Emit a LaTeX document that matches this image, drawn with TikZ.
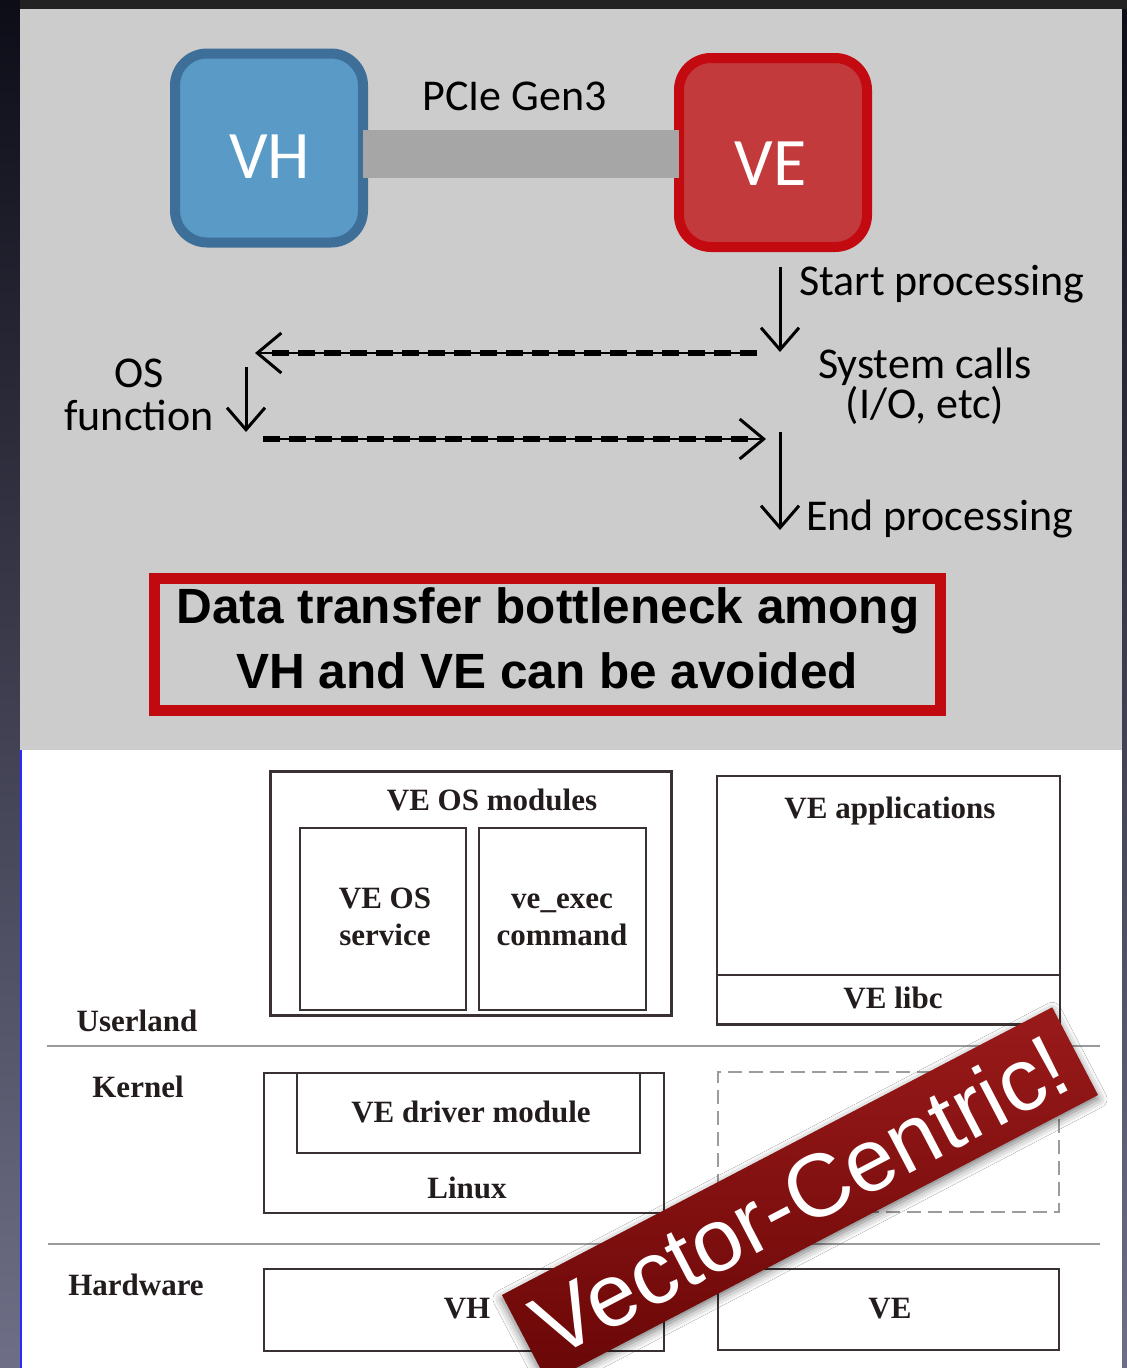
\documentclass[tikz,border=0pt]{standalone}
\usepackage{fontspec}
\setmainfont{Liberation Serif}
\newfontfamily\flowfont{Carlito}
\newfontfamily\plainsans{Liberation Sans}
\usetikzlibrary{arrows.meta,shadows.blur}

\definecolor{frametop}{HTML}{0D0D18}
\definecolor{framebot}{HTML}{6E6E86}
\definecolor{topstrip}{HTML}{222222}
\definecolor{panelgray}{HTML}{CCCCCC}
\definecolor{edgeblue}{HTML}{2A2AFF}
\definecolor{vhfill}{HTML}{5A9AC6}
\definecolor{vhline}{HTML}{3E6F98}
\definecolor{vefill}{HTML}{C33A3C}
\definecolor{veline}{HTML}{C20A10}
\definecolor{pciegray}{HTML}{A6A6A6}
\definecolor{notered}{HTML}{C00A10}
\definecolor{boxline}{HTML}{3A3232}
\definecolor{laytext}{HTML}{231C1C}
\definecolor{sepgray}{HTML}{9A9A9A}
\definecolor{dashgray}{HTML}{9C9C9C}
\definecolor{bannerhi}{HTML}{9A1A1A}
\definecolor{bannerlo}{HTML}{6A0707}

\begin{document}
\begin{tikzpicture}[x=1pt,y=-1pt,
  chip/.style={rounded corners=32pt, line width=10pt, minimum width=188pt,
    minimum height=189pt, inner sep=0pt, outer sep=0pt},
  chiplabel/.style={anchor=base, inner sep=0pt, text=white,
    font=\flowfont\fontsize{68}{68}\selectfont},
  flowtext/.style={inner sep=0pt, text=black,
    font=\flowfont\fontsize{44}{44}\selectfont},
  flowarrow/.style={line width=3pt,
    -{Straight Barb[length=22pt,width=38pt,line width=3pt]}},
  callbase/.style={line width=1.5pt,
    -{Straight Barb[length=24pt,width=40pt,line width=3pt]}},
  calldash/.style={line width=5.5pt, dash pattern=on 17pt off 9pt},
  notebox/.style={draw=notered, line width=11pt, minimum width=786pt,
    minimum height=132pt, inner sep=0pt},
  notetext/.style={anchor=base, inner sep=0pt, text=black,
    font=\plainsans\bfseries\fontsize{49.5}{49.5}\selectfont},
  layerbox/.style={draw=boxline, line width=2.5pt, inner sep=0pt, outer sep=0pt},
  spare/.style={draw=dashgray, line width=2pt, dash pattern=on 14pt off 7pt,
    inner sep=0pt},
  laytext/.style={anchor=base, inner sep=0pt, text=laytext,
    font=\bfseries\fontsize{31}{31}\selectfont},
  separator/.style={draw=sepgray, line width=1.8pt},
  banner/.style={rotate=27.6, minimum width=621pt, minimum height=99pt,
    inner sep=0pt, top color=bannerhi, bottom color=bannerlo, text=white,
    font=\plainsans\fontsize{89}{89}\selectfont,
    blur shadow={shadow xshift=0pt, shadow yshift=-4pt,
      shadow blur radius=9pt, shadow opacity=55}}
]
\useasboundingbox (0,0) rectangle (1127,1368);

% frame and the two panels
\fill[top color=frametop, bottom color=framebot] (0,0) rectangle (1127,1368);
\fill[topstrip] (20,0) rectangle (1127,9);
\fill[panelgray] (20,9) rectangle (1122,750);
\fill[white] (20,750) rectangle (1122,1368);
\draw[edgeblue, line width=2pt] (21,750) -- (21,1368);

% host and engine linked by PCIe
\node[chip, fill=vhfill, draw=vhline] (vh) at (269,148) {};
\node[chip, fill=vefill, draw=veline] (ve) at (773,152.5) {};
\draw[pciegray, line width=48pt] ([yshift=-6pt]vh.east) -- ([yshift=-1.5pt]ve.west);
\node[chiplabel] (vhtxt) at (269.5,178) {VH};
\node[chiplabel] (vetxt) at (770.5,185) {VE};
\node[flowtext, anchor=base] (pcie) at (514.5,110) {PCIe Gen3};

% processing flow on the engine
\coordinate (runA) at (780,267);
\coordinate (runB) at (780,352);
\coordinate (callFrom) at (757,353);
\coordinate (osIn) at (255,353);
\coordinate (osA) at (246,367);
\coordinate (osB) at (246,432);
\coordinate (retFrom) at (263,439);
\coordinate (retTo) at (766,439);
\coordinate (endA) at (780,432);
\coordinate (endB) at (780,530);

\draw[flowarrow] (runA) -- (runB);
\draw[callbase] (callFrom) -- (osIn);
\draw[calldash, shorten >=14pt] (callFrom) -- (osIn);
\draw[flowarrow] (osA) -- (osB);
\draw[callbase] (retFrom) -- (retTo);
\draw[calldash, shorten >=14pt] (retFrom) -- (retTo);
\draw[flowarrow] (endA) -- (endB);

\node[flowtext, anchor=base west] (start) at (799,295) {Start processing};
\node[flowtext, anchor=base] (sys1) at (925,378) {System calls};
\node[flowtext, anchor=base] (sys2) at (925,418) {(I/O, etc)};
\node[flowtext, anchor=base] (os1) at (139,387) {OS};
\node[flowtext, anchor=base] (os2) at (139,430) {function};
\node[flowtext, anchor=base west] (finish) at (806,530) {End processing};

% conclusion
\node[notebox] (note) at (547.75,644) {};
\node[notetext] (note1) at (548,623) {Data transfer bottleneck among};
\node[notetext] (note2) at (547,688) {VH and VE can be avoided};

% software stack
\draw[separator] (47,1046) -- (1100,1046);
\draw[separator] (48,1244) -- (1100,1244);

\node[laytext] (user) at (137,1031) {Userland};
\node[laytext] (kern) at (138,1097) {Kernel};
\node[laytext] (hard) at (136,1295) {Hardware};

\node[layerbox, minimum width=401pt, minimum height=244pt] (mods) at (471,893.5) {};
\node[layerbox, minimum width=166pt, minimum height=182pt] (svc) at (383,919) {};
\node[layerbox, minimum width=167pt, minimum height=182pt] (exec) at (562.5,919) {};
\node[laytext] at (492,810) {VE OS modules};
\node[laytext] at (385,908) {VE OS};
\node[laytext] at (385,945) {service};
\node[laytext] at (562,908) {ve\_exec};
\node[laytext] at (562,945) {command};

\node[layerbox, minimum width=343pt, minimum height=248pt] (apps) at (888.5,900) {};
\node[layerbox, minimum width=343pt, minimum height=50pt] (libc) at (888.5,1000) {};
\node[laytext] at (890,818) {VE applications};
\node[laytext] at (893,1008) {VE libc};

\node[layerbox, minimum width=400pt, minimum height=140pt] (linux) at (464,1143) {};
\node[layerbox, minimum width=343pt, minimum height=80pt] (drv) at (468.5,1113) {};
\node[laytext] at (471,1122) {VE driver module};
\node[laytext] at (467,1198) {Linux};
\node[spare, minimum width=341pt, minimum height=140pt] (vekern) at (888.5,1142) {};

\node[layerbox, minimum width=400pt, minimum height=82pt] (hwvh) at (464,1310) {};
\node[layerbox, minimum width=341pt, minimum height=81pt] (hwve) at (888.5,1309.5) {};
\node[laytext] at (467,1318) {VH};
\node[laytext] at (890,1318) {VE};

% slogan banner
\node[banner] (slogan) at (800,1195) {Vector-Centric!};
\end{tikzpicture}
\end{document}
